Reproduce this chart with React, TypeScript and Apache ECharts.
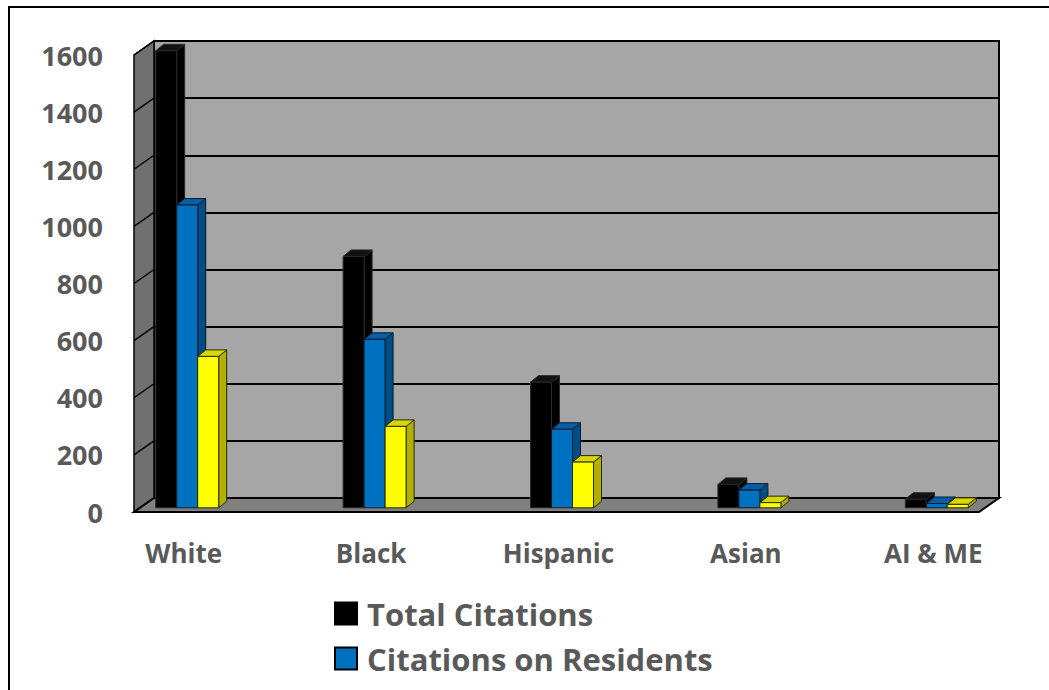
import React, { useEffect, useRef } from 'react';
import * as echarts from 'echarts';

const categories = ['White', 'Black', 'Hispanic', 'Asian', 'AI & ME'];
const seriesNames = ['Total Citations', 'Citations on Residents', 'Citations on Non-Residents'];
const legendNames = ['Total Citations', 'Citations on Residents'];
const totalCitations = [1600, 880, 440, 82, 30];
const residentCitations = [1060, 590, 275, 62, 15];
const nonResidentCitations = [530, 285, 160, 18, 12];
const yTickValues = [0, 200, 400, 600, 800, 1000, 1200, 1400, 1600];

const Y_MIN = 0;
const Y_MAX = 1600;
const Y_INTERVAL = 200;

// layout (pixels)
const FRONT_LEFT = 134;
const FRONT_WIDTH = 845;
const FRONT_TOP = 55;
const FRONT_HEIGHT = 457;
const DEPTH_X = 20;
const DEPTH_Y = -14;
const PLANE_SHIFT_Y = -4.2; // bars sit a little behind the front plane
const GROUP_START = -28;
const BAR_W = 21;
const BAR_DX = 8;
const BAR_DY = -6.5;

const faceColors = [
  { front: '#000000', side: '#000000', top: '#111111', stroke: '#2a2a2a' },
  { front: '#0070c0', side: '#004c85', top: '#005fa6', stroke: '#0b1b2b' },
  { front: '#ffff00', side: '#b0b000', top: '#d8d800', stroke: '#2b2b00' },
];

const TEXT = '#595959';
const FONT = 'Open Sans';

function makeRender(sIdx: number) {
  return (params: any, api: any) => {
    const cat = api.value(0);
    const val = api.value(1);
    const base = api.coord([cat, 0]);
    const top = api.coord([cat, val]);
    const x0 = base[0] + GROUP_START + sIdx * BAR_W;
    const x1 = x0 + BAR_W;
    const yb = base[1] + PLANE_SHIFT_Y;
    const yt = top[1] + PLANE_SHIFT_Y;
    const c = faceColors[sIdx];
    const lw = 1;
    return {
      type: 'group',
      children: [
        {
          type: 'polygon',
          shape: { points: [[x1, yb], [x1 + BAR_DX, yb + BAR_DY], [x1 + BAR_DX, yt + BAR_DY], [x1, yt]] },
          style: { fill: c.side, stroke: c.stroke, lineWidth: lw },
        },
        {
          type: 'polygon',
          shape: { points: [[x0, yt], [x1, yt], [x1 + BAR_DX, yt + BAR_DY], [x0 + BAR_DX, yt + BAR_DY]] },
          style: { fill: c.top, stroke: c.stroke, lineWidth: lw },
        },
        {
          type: 'polygon',
          shape: { points: [[x0, yb], [x1, yb], [x1, yt], [x0, yt]] },
          style: { fill: c.front, stroke: c.stroke, lineWidth: lw },
        },
      ],
    };
  };
}

export default function App() {
  const ref = useRef<HTMLDivElement>(null);
  useEffect(() => {
    if (!ref.current) return;
    const chart = echarts.init(ref.current, undefined, { renderer: 'svg' });
    const valueList = [totalCitations, residentCitations, nonResidentCitations];

    const yToPx = (v: number) => FRONT_TOP + FRONT_HEIGHT - ((v - Y_MIN) / (Y_MAX - Y_MIN)) * FRONT_HEIGHT;
    const bottom = FRONT_TOP + FRONT_HEIGHT;
    const right = FRONT_LEFT + FRONT_WIDTH;

    const sideLines = yTickValues.map((v) => ({
      type: 'line',
      z: 1,
      shape: { x1: FRONT_LEFT, y1: yToPx(v), x2: FRONT_LEFT + DEPTH_X, y2: yToPx(v) + DEPTH_Y },
      style: { stroke: '#000', lineWidth: 1.5 },
    }));

    chart.setOption({
      animation: false,
      backgroundColor: '#ffffff',
      textStyle: { fontFamily: FONT },
      grid: [
        { left: 90, top: FRONT_TOP, width: 937, height: FRONT_HEIGHT, show: false },
        { left: FRONT_LEFT, top: FRONT_TOP, width: FRONT_WIDTH, height: FRONT_HEIGHT, show: false },
        {
          left: FRONT_LEFT + DEPTH_X,
          top: FRONT_TOP + DEPTH_Y,
          width: FRONT_WIDTH,
          height: FRONT_HEIGHT,
          show: true,
          backgroundColor: '#a6a6a6',
          borderColor: '#000',
          borderWidth: 2,
        },
      ],
      xAxis: [
        {
          gridIndex: 0,
          type: 'category',
          data: categories,
          axisLine: { show: false },
          axisTick: { show: false },
          axisLabel: { margin: 28, fontSize: 26, fontWeight: 'bold', color: TEXT, fontFamily: FONT },
        },
        { gridIndex: 1, type: 'value', show: false },
        { gridIndex: 2, type: 'value', show: false },
      ],
      yAxis: [
        { gridIndex: 0, type: 'value', min: Y_MIN, max: Y_MAX, interval: Y_INTERVAL, show: false },
        {
          gridIndex: 1,
          type: 'value',
          min: Y_MIN,
          max: Y_MAX,
          interval: Y_INTERVAL,
          axisLine: { show: false },
          axisTick: { show: false },
          splitLine: { show: false },
          axisLabel: {
            margin: 31,
            fontSize: 27,
            fontWeight: 'bold',
            color: TEXT,
            fontFamily: FONT,
            formatter: (v: number) => String(v),
          },
        },
        {
          gridIndex: 2,
          type: 'value',
          min: Y_MIN,
          max: Y_MAX,
          interval: Y_INTERVAL,
          axisLine: { show: false },
          axisTick: { show: false },
          axisLabel: { show: false },
          splitLine: { show: true, lineStyle: { color: '#000', width: 2 } },
        },
      ],
      legend: {
        orient: 'vertical',
        left: 334,
        top: 598,
        padding: 0,
        itemWidth: 22,
        itemHeight: 22,
        itemGap: 14,
        icon: 'rect',
        data: legendNames,
        textStyle: { fontSize: 31, fontWeight: 'bold', color: TEXT, fontFamily: FONT, padding: [0, 0, 0, 5] },
      },
      graphic: [
        {
          type: 'rect',
          z: 0,
          shape: { x: 9, y: 7, width: 1300, height: 1000 },
          style: { fill: 'none', stroke: '#000', lineWidth: 2 },
        },
        {
          type: 'polygon',
          z: 1,
          shape: {
            points: [
              [FRONT_LEFT, FRONT_TOP],
              [FRONT_LEFT + DEPTH_X, FRONT_TOP + DEPTH_Y],
              [FRONT_LEFT + DEPTH_X, bottom + DEPTH_Y],
              [FRONT_LEFT, bottom],
            ],
          },
          style: { fill: '#707070', stroke: '#000', lineWidth: 1.5 },
        },
        ...sideLines,
        {
          type: 'polygon',
          z: 1,
          shape: {
            points: [
              [FRONT_LEFT, bottom],
              [FRONT_LEFT + DEPTH_X, bottom + DEPTH_Y],
              [right + DEPTH_X, bottom + DEPTH_Y],
              [right, bottom],
            ],
          },
          style: { fill: '#808080', stroke: '#000', lineWidth: 2 },
        },
      ],
      series: valueList.map((vals, sIdx) => ({
        name: seriesNames[sIdx],
        type: 'custom',
        xAxisIndex: 0,
        yAxisIndex: 0,
        z: 5,
        itemStyle: { color: faceColors[sIdx].front, borderColor: '#000', borderWidth: 1.5 },
        renderItem: makeRender(sIdx),
        data: categories.map((c, i) => [i, vals[i]]),
      })),
    });
    return () => chart.dispose();
  }, []);

  return (
    <div style={{ position: 'fixed', left: 0, top: 0, width: 1049, height: 690, overflow: 'hidden', background: '#fff' }}>
      <div ref={ref} style={{ width: 1049, height: 760 }} />
    </div>
  );
}
